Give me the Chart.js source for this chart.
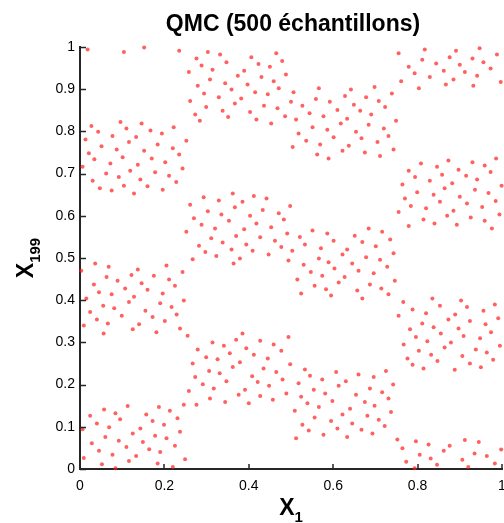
<!DOCTYPE html>
<html><head><meta charset="utf-8">
<script src="https://cdn.jsdelivr.net/npm/chart.js@4.4.1/dist/chart.umd.min.js"></script>
<style>html,body{margin:0;padding:0;background:#fff;overflow:hidden}#wrap{width:504px;height:523px;position:relative}</style>
</head><body><div id="wrap"><canvas id="c" width="504" height="523"></canvas></div>
<script>
const titleText = 'QMC (500 échantillons)';
const xLabelMain = 'X', xLabelSub = '1';
const yLabelMain = 'X', yLabelSub = '199';
const xTicks = [0, 0.2, 0.4, 0.6, 0.8, 1];
const yTicks = [0, 0.1, 0.2, 0.3, 0.4, 0.5, 0.6, 0.7, 0.8, 0.9, 1];

const x1 = [
0.018,0.104,0.152,0.235,0.276,0.303,0.288,0.314,0.258,0.308,0.279,0.294,0.261,0.299,0.273,0.284,0.027,0.096,0.146,0.043,0.110,0.167,0.222,0.194,0.013,0.077,0.133,0.252,0.051,0.116,0.184,0.087,0.152,0.220,0.021,0.034,0.101,0.170,0.235,0.072,0.137,0.202,0.006,0.243,0.119,0.062,0.178,0.092,0.211,0.030,0.143,0.228,
0.332,0.406,0.465,0.347,0.423,0.479,0.450,0.389,0.374,0.430,0.488,0.344,0.397,0.459,0.359,0.471,0.566,0.642,0.415,0.506,0.329,0.382,0.445,0.559,0.628,0.367,0.436,0.500,0.592,0.527,0.649,0.338,0.403,0.468,0.610,0.351,0.418,0.486,0.544,0.577,0.512,0.633,0.453,0.618,0.551,0.586,0.654,0.518,0.601,0.536,0.569,0.637,0.504,0.622,0.562,0.589,
0.755,0.817,0.947,0.891,0.876,0.811,0.988,0.930,0.779,0.844,0.900,0.956,0.862,0.793,0.912,0.973,0.829,0.941,0.761,0.885,0.997,0.867,0.803,0.932,0.698,0.739,0.678,0.708,0.664,0.723,0.690,0.749,0.684,0.720,0.667,0.731,0.705,0.675,0.743,0.711,0.808,0.873,0.930,0.986,0.779,0.846,0.897,0.959,0.794,0.858,0.915,0.973,0.829,0.941,0.882,
0.047,0.075,0.104,0.128,0.160,0.196,0.293,0.261,0.303,0.270,0.288,0.320,0.252,0.311,0.282,0.297,0.323,0.267,0.036,0.068,0.003,0.137,0.205,0.063,0.122,0.175,0.243,0.089,0.146,0.211,0.033,0.107,0.160,0.225,0.045,0.075,0.128,0.196,0.015,0.116,0.190,0.246,0.055,0.081,0.155,0.217,0.024,0.099,0.172,0.229,0.040,0.066,0.140,0.201,0.009,0.125,0.237,
0.362,0.329,0.412,0.442,0.385,0.367,0.433,0.498,0.335,0.403,0.471,0.353,0.418,0.483,0.389,0.453,0.551,0.338,0.370,0.427,0.491,0.521,0.586,0.651,0.601,0.394,0.462,0.533,0.359,0.409,0.477,0.571,0.633,0.379,0.447,0.503,0.622,0.364,0.494,0.566,0.589,0.645,0.530,0.603,0.660,0.547,0.574,0.627,0.515,0.613,0.556,0.583,0.657,0.524,0.595,
0.764,0.799,0.838,0.864,0.936,0.968,0.999,0.770,0.853,0.900,0.917,0.985,0.784,0.820,0.953,0.755,0.885,0.870,0.994,0.814,0.840,0.926,0.959,0.779,0.893,0.976,0.684,0.716,0.735,0.669,0.701,0.743,0.678,0.711,0.728,0.696,0.746,0.687,0.714,0.731,0.669,0.835,0.766,0.903,0.853,0.917,0.983,0.788,0.820,0.889,0.956,0.755,0.873,0.924,0.991,0.811,0.838,0.897,0.961,0.782,
0.056,0.181,0.255,0.314,0.279,0.299,0.326,0.267,0.306,0.273,0.291,0.317,0.258,0.308,0.276,0.246,0.057,0.024,0.084,0.113,0.187,0.157,0.213,0.095,0.040,0.172,0.231,0.069,0.143,0.199,0.006,0.125,0.237,0.060,0.178,0.092,0.028,0.205,0.149,0.225,0.110,0.045,0.164,0.190,0.009,0.077,0.133,0.249,0.116,0.052,0.184,0.084,0.220,
0.385,0.494,0.341,0.370,0.427,0.459,0.355,0.394,0.412,0.477,0.379,0.445,0.362,0.498,0.331,0.408,0.435,0.465,0.533,0.545,0.607,0.660,0.347,0.421,0.480,0.574,0.630,0.518,0.391,0.448,0.554,0.613,0.376,0.427,0.489,0.581,0.654,0.524,0.344,0.400,0.457,0.539,0.598,0.566,0.640,0.509,0.622,0.556,0.595,0.645,0.527,0.610,0.542,0.577,0.633,0.512,
0.855,0.974,0.796,0.909,0.948,0.823,0.767,0.879,0.995,0.864,0.938,0.803,0.964,0.832,0.906,0.776,0.979,0.847,0.788,0.924,0.814,0.888,0.950,0.725,0.696,0.742,0.687,0.716,0.731,0.675,0.698,0.737,0.681,0.708,0.722,0.667,0.693,0.752,0.796,0.912,0.945,0.764,0.826,0.876,0.998,0.805,0.862,0.935,0.831,0.906,0.964,0.773,0.846,0.983,0.793,0.920
];

const x199 = [
0.994,0.988,0.999,0.991,0.973,0.988,0.956,0.946,0.941,0.923,0.908,0.890,0.872,0.858,0.840,0.825,0.813,0.822,0.819,0.799,0.807,0.802,0.810,0.795,0.781,0.789,0.787,0.778,0.765,0.775,0.769,0.757,0.754,0.760,0.748,0.734,0.739,0.736,0.745,0.724,0.721,0.727,0.716,0.712,0.707,0.700,0.703,0.692,0.695,0.683,0.686,0.680,
0.982,0.976,0.985,0.964,0.960,0.967,0.953,0.944,0.932,0.929,0.935,0.914,0.911,0.919,0.899,0.902,0.902,0.899,0.893,0.893,0.881,0.878,0.888,0.877,0.884,0.866,0.861,0.870,0.870,0.861,0.863,0.849,0.846,0.855,0.851,0.834,0.828,0.836,0.843,0.836,0.828,0.830,0.819,0.819,0.810,0.804,0.799,0.795,0.786,0.778,0.769,0.766,0.763,0.754,0.745,0.736,
0.985,0.994,0.997,0.991,0.976,0.970,0.982,0.973,0.953,0.961,0.958,0.964,0.944,0.938,0.941,0.949,0.929,0.932,0.919,0.923,0.917,0.911,0.902,0.908,0.905,0.890,0.881,0.872,0.849,0.858,0.840,0.825,0.816,0.807,0.784,0.789,0.775,0.750,0.757,0.742,0.724,0.731,0.727,0.736,0.707,0.716,0.709,0.719,0.692,0.697,0.695,0.704,0.683,0.686,0.677,
0.665,0.660,0.671,0.653,0.670,0.662,0.644,0.626,0.611,0.594,0.579,0.570,0.562,0.547,0.529,0.514,0.505,0.497,0.487,0.479,0.470,0.473,0.482,0.455,0.460,0.458,0.467,0.446,0.440,0.449,0.437,0.428,0.425,0.434,0.419,0.414,0.408,0.416,0.404,0.396,0.393,0.399,0.387,0.381,0.375,0.384,0.372,0.363,0.360,0.366,0.354,0.345,0.343,0.351,0.340,0.331,0.333,
0.653,0.636,0.647,0.641,0.633,0.620,0.614,0.623,0.603,0.600,0.606,0.588,0.582,0.591,0.568,0.573,0.565,0.537,0.552,0.549,0.558,0.550,0.558,0.553,0.541,0.532,0.541,0.532,0.520,0.517,0.526,0.523,0.520,0.499,0.508,0.517,0.508,0.487,0.494,0.499,0.490,0.487,0.484,0.475,0.470,0.467,0.458,0.455,0.449,0.442,0.434,0.426,0.423,0.416,0.411,
0.674,0.656,0.650,0.665,0.662,0.654,0.671,0.641,0.633,0.645,0.629,0.635,0.623,0.618,0.621,0.609,0.612,0.600,0.603,0.591,0.582,0.596,0.588,0.576,0.579,0.570,0.570,0.562,0.544,0.538,0.528,0.511,0.502,0.496,0.479,0.464,0.446,0.437,0.428,0.414,0.404,0.404,0.396,0.399,0.387,0.384,0.390,0.378,0.369,0.366,0.375,0.363,0.354,0.351,0.357,0.345,0.336,0.333,0.343,0.331,
0.321,0.324,0.316,0.300,0.283,0.265,0.260,0.250,0.232,0.218,0.201,0.191,0.185,0.167,0.152,0.152,0.141,0.126,0.132,0.149,0.147,0.129,0.138,0.118,0.108,0.114,0.120,0.099,0.096,0.105,0.094,0.084,0.088,0.076,0.079,0.067,0.061,0.073,0.064,0.055,0.052,0.043,0.047,0.040,0.026,0.034,0.031,0.023,0.019,0.011,0.013,0.002,0.005,
0.321,0.313,0.292,0.306,0.304,0.295,0.274,0.286,0.271,0.280,0.253,0.262,0.242,0.248,0.227,0.220,0.238,0.230,0.236,0.221,0.230,0.224,0.208,0.206,0.212,0.212,0.208,0.203,0.188,0.197,0.188,0.197,0.176,0.173,0.179,0.179,0.176,0.171,0.159,0.156,0.164,0.156,0.161,0.147,0.143,0.138,0.129,0.122,0.114,0.108,0.105,0.096,0.091,0.081,0.076,0.073,
0.321,0.324,0.313,0.315,0.310,0.303,0.295,0.300,0.292,0.288,0.283,0.280,0.276,0.271,0.268,0.262,0.259,0.256,0.247,0.250,0.238,0.235,0.241,0.232,0.218,0.200,0.191,0.182,0.167,0.159,0.150,0.135,0.126,0.117,0.102,0.093,0.084,0.070,0.066,0.069,0.064,0.049,0.058,0.055,0.046,0.034,0.043,0.037,0.025,0.022,0.031,0.017,0.010,0.013,0.002,0.005
];

const points = x1.map((v, i) => ({ x: v, y: x199[i] }));
const FONT = '"Liberation Sans", Arial, Helvetica, sans-serif';
const AXIS_COLOR = '#262626';

const decorPlugin = {
  id: 'decor',
  afterDraw(chart) {
    const { ctx, chartArea: a, scales } = chart;
    const xs = scales.x, ys = scales.y;
    ctx.save();
    ctx.strokeStyle = AXIS_COLOR;
    ctx.lineWidth = 1.5;
    ctx.beginPath();
    xTicks.forEach(v => {
      const px = Math.round(xs.getPixelForValue(v));
      ctx.moveTo(px, a.bottom); ctx.lineTo(px, a.bottom - 5);
    });
    yTicks.forEach(v => {
      const py = Math.round(ys.getPixelForValue(v)) + 0.5;
      ctx.moveTo(a.left, py); ctx.lineTo(a.left + 6, py);
    });
    ctx.stroke();

    ctx.fillStyle = '#000';
    ctx.font = 'bold 23px ' + FONT;
    ctx.textAlign = 'center';
    ctx.textBaseline = 'alphabetic';
    ctx.fillText(titleText, (a.left + a.right) / 2 + 2, 31);

    ctx.textAlign = 'left';
    const mainFont = 'bold 23px ' + FONT, subFont = 'bold 15px ' + FONT;
    ctx.font = mainFont;
    const wxm = ctx.measureText(xLabelMain).width;
    ctx.font = subFont;
    const wxs = ctx.measureText(xLabelSub).width;
    const xStart = (a.left + a.right) / 2 - (wxm + wxs) / 2;
    ctx.font = mainFont;
    ctx.fillText(xLabelMain, xStart, a.bottom + 46);
    ctx.font = subFont;
    ctx.fillText(xLabelSub, xStart + wxm, a.bottom + 53);

    ctx.font = mainFont;
    const wym = ctx.measureText(yLabelMain).width;
    ctx.font = subFont;
    const wys = ctx.measureText(yLabelSub).width;
    const cy = (a.top + a.bottom) / 2;
    ctx.translate(33, cy + (wym + wys) / 2);
    ctx.rotate(-Math.PI / 2);
    ctx.font = mainFont;
    ctx.fillText(yLabelMain, 0, 0);
    ctx.font = subFont;
    ctx.fillText(yLabelSub, wym, 7);
    ctx.restore();
  }
};

new Chart(document.getElementById('c'), {
  type: 'scatter',
  data: {
    datasets: [{
      data: points,
      pointStyle: 'circle',
      pointRadius: 2,
      pointHoverRadius: 2,
      backgroundColor: 'rgba(255,30,30,0.7)',
      borderWidth: 0,
      clip: false
    }]
  },
  options: {
    responsive: false,
    devicePixelRatio: 1,
    animation: false,
    events: [],
    layout: { padding: { top: 47, right: 2, left: 0, bottom: 0 } },
    plugins: { legend: { display: false }, title: { display: false }, tooltip: { enabled: false } },
    scales: {
      x: {
        type: 'linear', min: 0, max: 1,
        afterBuildTicks(s) { s.ticks = xTicks.map(v => ({ value: v })); },
        afterFit(s) { s.height = 54; s.paddingLeft = 0; s.paddingRight = 0; },
        ticks: { color: '#000', font: { family: FONT, size: 14 }, padding: 9, maxRotation: 0, autoSkip: false, callback: v => String(v) },
        grid: { display: true, drawOnChartArea: false, drawTicks: false, color: 'rgba(0,0,0,0)' },
        border: { display: true, color: AXIS_COLOR, width: 2 }
      },
      y: {
        type: 'linear', min: 0, max: 1,
        afterBuildTicks(s) { s.ticks = yTicks.map(v => ({ value: v })); },
        afterFit(s) { s.width = 80; s.paddingTop = 0; s.paddingBottom = 0; },
        ticks: { color: '#000', font: { family: FONT, size: 14 }, padding: 5, autoSkip: false, callback: v => String(v) },
        grid: { display: true, drawOnChartArea: false, drawTicks: false, color: 'rgba(0,0,0,0)' },
        border: { display: true, color: AXIS_COLOR, width: 2 }
      }
    }
  },
  plugins: [decorPlugin]
});
</script>
</body></html>
